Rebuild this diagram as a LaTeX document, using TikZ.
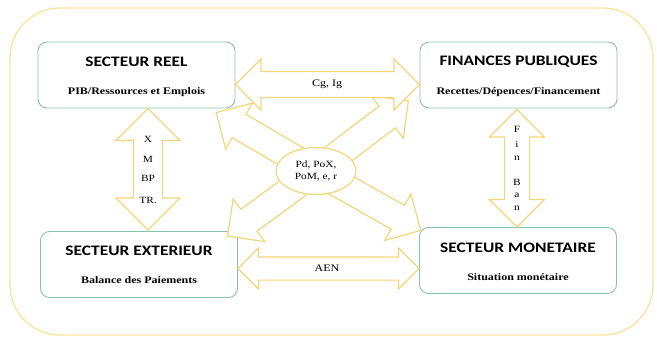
\documentclass[tikz,border=0pt]{standalone}
\usepackage{fontspec}
\setmainfont[FakeStretch=1.2]{Liberation Serif}
\newfontfamily\titlefont[FakeStretch=1.2]{Carlito}
\usepackage{tikz}
\usetikzlibrary{shapes.arrows,shapes.geometric,calc}

\definecolor{arrowyellow}{RGB}{243,214,122}
\definecolor{frameyellow}{RGB}{250,228,160}
\definecolor{boxgreen}{RGB}{138,194,176}

% fat arrow node stretched between two points
\newcommand{\fatarrow}[3]{%
  \path let \p1=#2, \p2=#3,
    \n1={atan2(\y2-\y1,\x2-\x1)}, \n2={veclen(\x2-\x1,\y2-\y1)} in
    node[#1,rotate=\n1,minimum height=\n2] at ($(\p1)!0.5!(\p2)$) {};}

\begin{document}
\begin{tikzpicture}[x=1pt,y=-1pt,
    sector/.style={draw=boxgreen,line width=0.9pt,rounded corners=9pt,fill=white,
      minimum width=197pt,minimum height=66pt,inner sep=0pt},
    ttl/.style={font=\titlefont\bfseries\fontsize{14.5}{16}\selectfont,inner sep=1pt},
    sub/.style={font=\bfseries\fontsize{10}{12}\selectfont,inner sep=1pt},
    lbl/.style={font=\fontsize{9.5}{11}\selectfont,inner sep=1pt},
    fatline/.style={draw=arrowyellow,line width=1.2pt,fill=white,inner xsep=0pt,outer sep=0pt},
    dbl/.style={fatline,double arrow,inner ysep=#1},
    sgl/.style={fatline,single arrow,inner ysep=13pt,single arrow head extend=13pt}]
  \useasboundingbox (0,0) rectangle (657,340);
  \draw[frameyellow,line width=1.4pt,rounded corners=50pt] (10,8) rectangle (653,335);

  % sectors
  \node[sector] (SR) at (136.5,75) {};
  \node[sector] (FP) at (518.5,75) {};
  \node[sector] (SE) at (139,264.5) {};
  \node[sector] (SM) at (518,260.5) {};

  % centre and its four arrows
  \node[ellipse,minimum width=80pt,minimum height=47pt,inner sep=0pt] (PX) at (316,171) {};
  \coordinate (tUL) at (222,116);
  \coordinate (tUR) at (403,105);
  \coordinate (tLL) at (233,232);
  \coordinate (tLR) at (415,227);
  \fatarrow{sgl}{(PX.center)}{(tUL)}
  \fatarrow{sgl}{(PX.center)}{(tUR)}
  \fatarrow{sgl}{(PX.center)}{(tLL)}
  \fatarrow{sgl}{(PX.center)}{(tLR)}
  \node[ellipse,draw=arrowyellow,line width=1.2pt,fill=white,minimum width=80pt,
    minimum height=47pt,inner sep=0pt,align=center,font=\fontsize{9.5}{12.5}\selectfont]
    (PXtext) at (PX.center) {Pd, PoX,\\PoM, e, r};

  % links between sectors
  \coordinate (cgL) at ($(SR.east)+(0,9.5)$);
  \coordinate (cgR) at ($(FP.west)+(0,9.5)$);
  \coordinate (aeL) at ($(SE.east)+(0,4)$);
  \coordinate (aeR) at ($(SM.west)+(0,8)$);
  \coordinate (exT) at ($(SR.south)+(11.5,0)$);
  \coordinate (exB) at ($(SE.north)+(9,-1)$);
  \coordinate (fiT) at ($(FP.south)+(-1.5,1)$);
  \coordinate (fiB) at ($(SM.north)+(-1,0)$);
  \fatarrow{dbl=12.5pt,double arrow head extend=12.5pt}{(cgL)}{(cgR)}
  \fatarrow{dbl=11pt,double arrow head extend=9pt}{(aeL)}{(aeR)}
  \fatarrow{dbl=14pt,double arrow head extend=17.5pt}{(exT)}{(exB)}
  \fatarrow{dbl=12pt,double arrow head extend=15pt}{(fiT)}{(fiB)}

  % sector texts
  \node[ttl] (SRt) at ($(SR.center)+(0,-13)$) {SECTEUR REEL};
  \node[sub] (SRs) at ($(SR.center)+(0,17)$) {PIB/Ressources et Emplois};
  \node[ttl] (FPt) at ($(FP.center)+(0,-13)$) {FINANCES PUBLIQUES};
  \node[sub] (FPs) at ($(FP.center)+(0,17)$) {Recettes/Dépences/Financement};
  \node[ttl] (SEt) at ($(SE.center)+(0,-14)$) {SECTEUR EXTERIEUR};
  \node[sub] (SEs) at ($(SE.center)+(0,16)$) {Balance des Paiements};
  \node[ttl] (SMt) at ($(SM.center)+(0,-13)$) {SECTEUR MONETAIRE};
  \node[sub] (SMs) at ($(SM.center)+(0,17)$) {Situation monétaire};

  % flow labels
  \node[lbl,font=\fontsize{10}{11}\selectfont] (cg) at (327,84) {Cg, Ig};
  \node[lbl,font=\fontsize{10}{11}\selectfont] (aen) at (327,268) {AEN};
  \node[lbl] (lx) at (148,139) {X};
  \node[lbl] (lm) at (148,159) {M};
  \node[lbl] (lbp) at (148,178) {BP};
  \node[lbl] (ltr) at (148,200) {TR.};
  \node[lbl] (lf) at (517,129) {F};
  \node[lbl] (li) at (517,144) {i};
  \node[lbl] (ln) at (517,158) {n};
  \node[lbl] (lb) at (517,182) {B};
  \node[lbl] (la) at (517,195) {a};
  \node[lbl] (ln2) at (517,208) {n};
\end{tikzpicture}
\end{document}
